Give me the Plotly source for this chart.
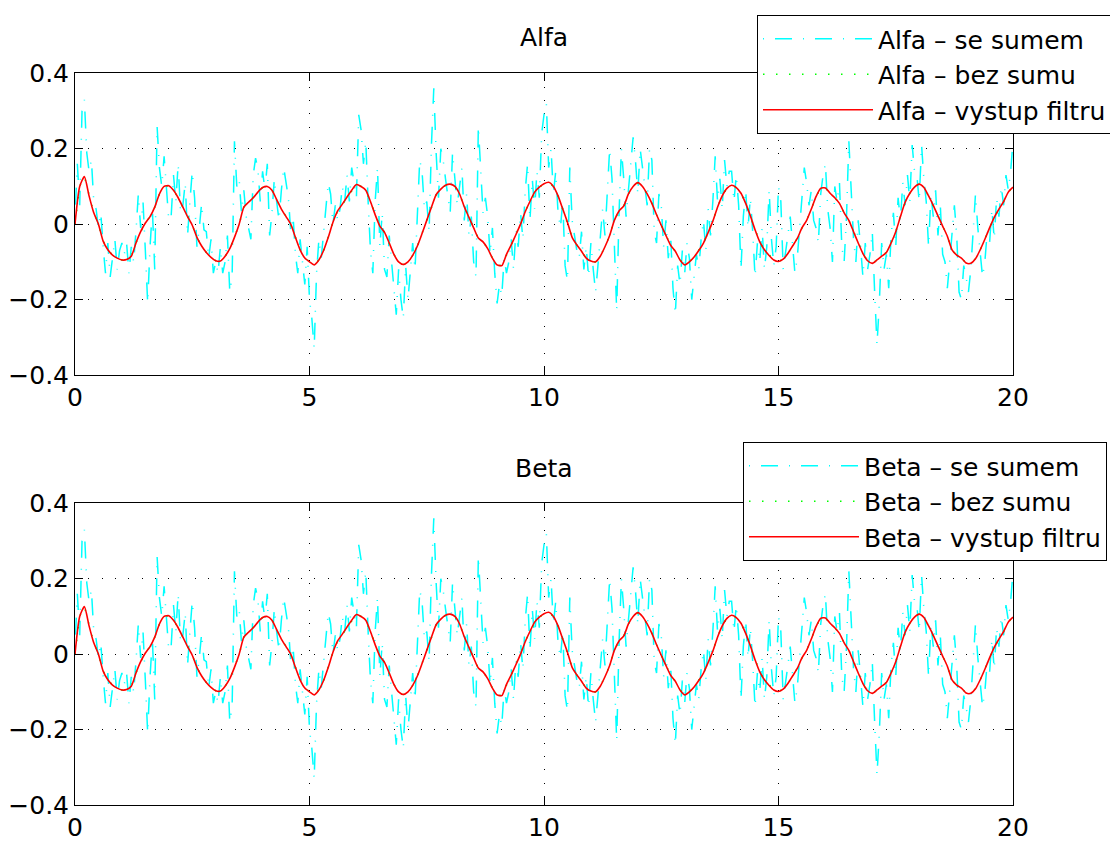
import plotly.graph_objects as go

# time axes
t_clean = [round(i * 0.1, 2) for i in range(201)]
t_noisy = [round(i * 0.05, 2) for i in range(401)]

# filtered / noise-free signal, step 0.1 s
alfa_vystup = [
    0.0, 0.10, 0.126, 0.075, 0.03, 0.0, -0.045, -0.068, -0.082, -0.09,
    -0.095, -0.094, -0.085, -0.05, -0.02, 0.003, 0.02, 0.045, 0.08, 0.1,
    0.102, 0.09, 0.07, 0.045, 0.02, -0.003, -0.035, -0.058, -0.075, -0.088,
    -0.097, -0.098, -0.085, -0.065, -0.035, 0.0, 0.045, 0.058, 0.07, 0.085,
    0.097, 0.1, 0.09, 0.065, 0.04, 0.02, 0.0, -0.035, -0.068, -0.09,
    -0.1, -0.108, -0.095, -0.07, -0.035, 0.005, 0.035, 0.053, 0.072, 0.09,
    0.105, 0.1, 0.09, 0.06, 0.025, -0.005, -0.022, -0.05, -0.08, -0.1,
    -0.107, -0.1, -0.083, -0.058, -0.025, 0.01, 0.045, 0.078, 0.093, 0.103,
    0.106, 0.1, 0.08, 0.046, 0.018, -0.01, -0.037, -0.047, -0.065, -0.09,
    -0.108, -0.11, -0.08, -0.055, -0.028, 0.0, 0.033, 0.06, 0.085, 0.098,
    0.107, 0.111, 0.1, 0.075, 0.04, 0.005, -0.035, -0.055, -0.072, -0.09,
    -0.098, -0.1, -0.085, -0.06, -0.03, 0.01, 0.035, 0.048, 0.08, 0.1,
    0.11, 0.1, 0.08, 0.055, 0.025, -0.003, -0.03, -0.056, -0.072, -0.095,
    -0.108, -0.1, -0.087, -0.07, -0.05, -0.022, 0.008, 0.045, 0.075, 0.095,
    0.103, 0.097, 0.082, 0.055, 0.022, -0.015, -0.047, -0.068, -0.083, -0.095,
    -0.099, -0.093, -0.078, -0.058, -0.038, -0.01, 0.01, 0.04, 0.073, 0.095,
    0.096, 0.082, 0.07, 0.055, 0.03, 0.01, -0.02, -0.05, -0.078, -0.097,
    -0.104, -0.095, -0.085, -0.075, -0.05, -0.02, 0.02, 0.058, 0.082, 0.098,
    0.106, 0.097, 0.075, 0.05, 0.022, -0.005, -0.032, -0.068, -0.082, -0.09,
    -0.103, -0.104, -0.092, -0.068, -0.04, -0.01, 0.018, 0.04, 0.06, 0.085,
    0.098,
]
alfa_bez_sumu = list(alfa_vystup)

# noisy measurement (read from the cyan strokes), step 0.05 s
alfa_se_sumem = [
    0.02, 0.16, 0.05, 0.30, 0.33, 0.19, 0.14, 0.17, 0.06, 0.04,
    -0.01, 0.03, -0.06, -0.13, -0.05, -0.14, -0.09, -0.04, -0.12, -0.07,
    -0.05, -0.08, -0.05, -0.13, -0.06, -0.10, -0.02, 0.08, -0.01, 0.06,
    -0.07, -0.21, -0.06, 0.04, -0.12, 0.26, 0.15, 0.10, 0.18, 0.08,
    0.01, 0.02, 0.13, 0.06, 0.16, 0.03, 0.05, 0.11, -0.03, 0.06,
    0.14, 0.07, -0.06, -0.01, 0.055, -0.015, -0.02, -0.09, -0.04, -0.13,
    -0.10, -0.13, -0.06, -0.13, -0.10, -0.03, -0.18, -0.14, 0.22, 0.10,
    0.12, 0.03, 0.09, 0.02, -0.01, -0.04, 0.13, 0.175, 0.145, 0.06,
    0.14, 0.09, 0.16, -0.03, 0.03, 0.12, 0.06, 0.01, 0.09, 0.15,
    0.11, 0.07, -0.02, 0.02, -0.08, -0.13, -0.04, -0.10, -0.16, -0.06,
    -0.20, -0.25, -0.33, -0.13, -0.04, -0.09, -0.02, 0.04, 0.11, 0.08,
    0.00, 0.05, 0.01, 0.04, 0.10, 0.06, 0.13, 0.06, 0.15, 0.11,
    0.07, 0.29, 0.25, 0.16, 0.22, 0.06, -0.07, -0.13, 0.06, 0.15,
    -0.06, 0.03, -0.12, -0.14, -0.03, -0.10, -0.17, -0.24, -0.12, -0.20,
    -0.25, -0.11, -0.20, -0.13, -0.05, -0.12, 0.02, 0.17, 0.14, 0.04,
    0.06, -0.02, 0.21, 0.36, 0.19, 0.07, 0.20, 0.17, 0.12, 0.07,
    0.03, 0.19, 0.12, 0.05, 0.10, 0.15, 0.01, 0.08, -0.03, 0.02,
    -0.10, -0.14, 0.26, 0.14, 0.03, 0.07, 0.02, -0.08, -0.01, -0.13,
    -0.21, -0.16, -0.19, -0.09, -0.13, -0.10, -0.04, -0.12, -0.02, -0.06,
    0.03, -0.04, 0.09, 0.16, 0.01, 0.12, 0.04, 0.14, 0.07, 0.24,
    0.29, 0.32, 0.15, 0.20, 0.08, 0.14, 0.03, -0.01, 0.06, -0.11,
    -0.15, 0.15, 0.01, -0.03, -0.07, -0.09, -0.02, -0.12, -0.06, -0.14,
    -0.05, -0.12, -0.18, -0.11, -0.03, 0.04, -0.03, 0.08, 0.20, 0.12,
    -0.07, -0.23, 0.03, 0.20, 0.12, 0.02, 0.09, 0.17, 0.23, 0.17,
    0.08, 0.20, 0.15, 0.10, 0.05, 0.20, 0.17, -0.02, -0.05, 0.08,
    0.05, -0.06, 0.01, -0.09, -0.03, -0.17, -0.24, -0.11, -0.16, -0.07,
    -0.13, -0.05, -0.09, -0.20, -0.13, -0.08, -0.12, -0.04, 0.01, -0.07,
    0.04, -0.03, 0.06, 0.18, 0.06, 0.12, 0.04, 0.17, 0.10, 0.14,
    0.14, 0.06, 0.13, 0.05, -0.12, 0.02, 0.09, -0.01, 0.07, -0.02,
    -0.14, -0.05, -0.10, -0.01, -0.12, -0.06, 0.09, -0.04, -0.11, -0.06,
    0.10, 0.06, -0.12, -0.08, -0.03, 0.02, -0.06, -0.13, -0.09, -0.01,
    0.05, 0.15, 0.11, 0.05, 0.09, 0.01, -0.01, -0.05, 0.08, 0.13,
    0.16, 0.04, -0.01, -0.10, 0.10, 0.06, 0.11, -0.06, -0.10, 0.02,
    0.22, 0.09, -0.04, -0.10, 0.01, -0.06, -0.14, -0.05, -0.12, -0.08,
    -0.02, -0.18, -0.32, -0.21, -0.05, -0.12, -0.08, -0.17, -0.03, 0.03,
    -0.06, 0.07, 0.01, 0.11, 0.05, 0.13, 0.06, 0.21, 0.14, 0.13,
    0.06, 0.21, 0.12, 0.06, -0.06, 0.08, 0.02, 0.09, -0.03, 0.05,
    -0.08, -0.10, -0.17, -0.10, -0.03, 0.05, -0.03, -0.18, -0.20, -0.11,
    -0.14, -0.18, -0.12, -0.03, 0.08, -0.01, -0.07, -0.14, -0.10, -0.02,
    -0.05, 0.04, -0.04, 0.07, 0.02, 0.10, 0.05, 0.13, 0.09, 0.14,
    0.22,
]

# Beta panel shows the same signals
beta_vystup = list(alfa_vystup)
beta_bez_sumu = list(alfa_bez_sumu)
beta_se_sumem = list(alfa_se_sumem)

x_ticks = [0, 5, 10, 15, 20]
y_ticks = [-0.4, -0.2, 0, 0.2, 0.4]
y_ticktext = ["\u22120.4", "\u22120.2", "0", "0.2", "0.4"]

FONT = "DejaVu Sans"
W, H = 1110, 846
CYAN_DASH = "1px,11px,17px,11px"
GREEN_DASH = "1.5px,11.5px"

fig = go.Figure()


def add_panel(name, noisy, clean, filt, xa, ya, leg):
    fig.add_trace(go.Scatter(x=t_noisy, y=noisy, mode="lines", name=f"{name} \u2013 se sumem",
                             line=dict(color="#00FFFF", width=1.5, dash=CYAN_DASH),
                             xaxis=xa, yaxis=ya, legend=leg))
    fig.add_trace(go.Scatter(x=t_clean, y=clean, mode="lines", name=f"{name} \u2013 bez sumu",
                             line=dict(color="#00FF00", width=1.5, dash=GREEN_DASH),
                             xaxis=xa, yaxis=ya, legend=leg))
    fig.add_trace(go.Scatter(x=t_clean, y=filt, mode="lines", name=f"{name} \u2013 vystup filtru",
                             line=dict(color="#FF0000", width=1.6, shape="spline", smoothing=0.6),
                             xaxis=xa, yaxis=ya, legend=leg))


add_panel("Alfa", alfa_se_sumem, alfa_bez_sumu, alfa_vystup, "x", "y", "legend")
add_panel("Beta", beta_se_sumem, beta_bez_sumu, beta_vystup, "x2", "y2", "legend2")

xd = [75 / W, 1013 / W]
top_dom = [1 - 375 / H, 1 - 73.3 / H]
bot_dom = [1 - 805 / H, 1 - 503.3 / H]

axis_common = dict(showline=True, linecolor="black", linewidth=1, mirror="ticks",
                   ticks="inside", ticklen=8, tickcolor="black", tickwidth=1,
                   showgrid=True, gridcolor="black", gridwidth=1, griddash="1px,12.3px",
                   zeroline=False, tickfont=dict(family=FONT, size=25, color="black"))

xa = dict(axis_common, range=[0, 20], tickvals=x_ticks, domain=xd)
ya = dict(axis_common, range=[-0.4, 0.4], tickvals=y_ticks, ticktext=y_ticktext)

legend_common = dict(xanchor="left", yanchor="top", bordercolor="black", borderwidth=1,
                     bgcolor="white", font=dict(family=FONT, size=25, color="black"),
                     itemwidth=110, tracegroupgap=0)

fig.update_layout(
    width=W, height=H,
    margin=dict(l=0, r=0, t=0, b=0, autoexpand=False),
    paper_bgcolor="white", plot_bgcolor="white",
    xaxis=dict(xa, anchor="y"),
    yaxis=dict(ya, domain=top_dom, anchor="x"),
    xaxis2=dict(xa, anchor="y2"),
    yaxis2=dict(ya, domain=bot_dom, anchor="x2"),
    legend=dict(legend_common, x=757 / W, y=1 - 15 / H),
    legend2=dict(legend_common, x=743 / W, y=1 - 442 / H),
    annotations=[
        dict(text="Alfa", x=(xd[0] + xd[1]) / 2, y=1 - 38 / H, xref="paper", yref="paper",
             showarrow=False, xanchor="center", yanchor="middle",
             font=dict(family=FONT, size=25, color="black")),
        dict(text="Beta", x=(xd[0] + xd[1]) / 2, y=1 - 468 / H, xref="paper", yref="paper",
             showarrow=False, xanchor="center", yanchor="middle",
             font=dict(family=FONT, size=25, color="black")),
    ],
)

fig.write_html("out.html")
